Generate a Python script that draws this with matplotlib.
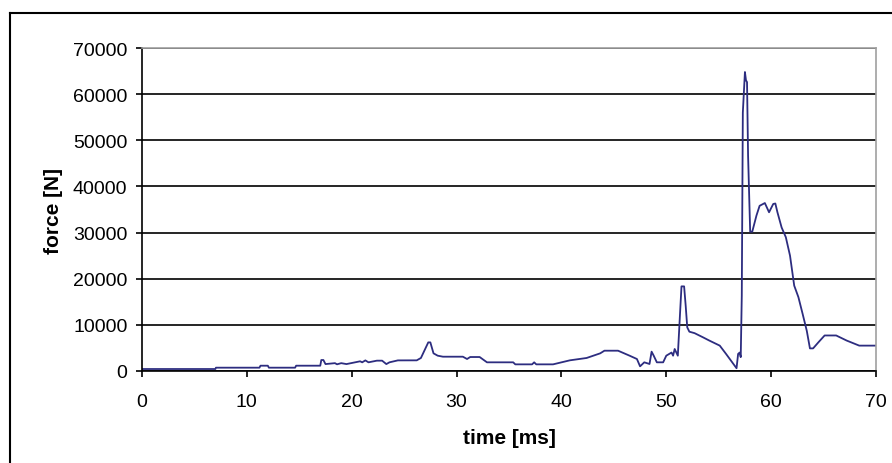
import matplotlib
matplotlib.use('Agg')
from matplotlib import pyplot as plt
from matplotlib.lines import Line2D

plt.rcParams['font.family'] = ['Liberation Sans', 'DejaVu Sans']

# time [ms] and force [N]
time_ms = [0, 7.0, 7.05, 11.2, 11.3, 12.0, 12.1, 14.6, 14.7, 17.0,
           17.1, 17.3, 17.5, 18.4, 18.6, 19.0, 19.5, 20.8, 21.0, 21.3,
           21.6, 22.4, 22.9, 23.3, 23.6, 24.4, 26.2, 26.6, 27.3, 27.5,
           27.8, 28.2, 28.7, 30.6, 31.0, 31.3, 32.2, 32.9, 35.4, 35.6,
           37.2, 37.4, 37.6, 39.2, 40.8, 42.4, 43.7, 44.1, 45.4, 46.5,
           47.2, 47.5, 47.9, 48.4, 48.6, 48.8, 49.1, 49.7, 50.0, 50.5,
           50.65, 50.8, 51.1, 51.3, 51.45, 51.7, 51.85, 52.0, 52.2, 52.7,
           53.5, 54.1, 55.1, 55.7, 56.7, 56.85, 57.0, 57.1, 57.2, 57.3,
           57.5, 57.6, 57.7, 57.8, 58.0, 58.2, 58.6, 58.9, 59.4, 59.8,
           60.2, 60.4, 60.6, 61.0, 61.4, 61.8, 62.2, 62.6, 63.0, 63.4,
           63.7, 64.0, 64.5, 65.1, 66.2, 67.2, 68.4, 70.0]
force_n = [430, 430, 720, 720, 1150, 1150, 720, 720, 1150, 1150,
           2380, 2380, 1500, 1700, 1450, 1700, 1500, 2100, 1880, 2300,
           1880, 2240, 2240, 1500, 1880, 2300, 2310, 2820, 6200, 6200,
           3830, 3320, 3100, 3100, 2600, 3030, 3030, 1880, 1880, 1440,
           1440, 1880, 1440, 1440, 2310, 2820, 3830, 4400, 4400, 3320,
           2600, 1010, 1880, 1520, 4190, 3320, 1880, 1880, 3320, 4000,
           3320, 4770, 3320, 12000, 18340, 18340, 14150, 9450, 8520, 8200,
           7300, 6600, 5500, 3700, 600, 3700, 4000, 3000, 16300, 56000,
           64800, 63000, 62600, 46700, 30200, 30200, 33700, 35800, 36400, 34400,
           36200, 36300, 34400, 31100, 29000, 25000, 18500, 16000, 12400, 8700,
           4900, 4900, 6200, 7700, 7700, 6600, 5500, 5500]

x_ticks = [0, 10, 20, 30, 40, 50, 60, 70]
y_ticks = [0, 10000, 20000, 30000, 40000, 50000, 60000, 70000]

fig = plt.figure(figsize=(8.92, 4.64), dpi=100)
ax = fig.add_axes([142/892, 1-372/464, 734/892, 323/464])

ax.plot(time_ms, force_n, color='#2d2d80', lw=1.3)

ax.set_xlim(0, 70)
ax.set_ylim(0, 70000)
ax.set_xticks(x_ticks)
ax.set_yticks(y_ticks)
ax.set_yticklabels([str(v) for v in y_ticks])
ax.yaxis.grid(True, color='black', lw=1.2)
ax.set_axisbelow(True)

for s in ['left', 'bottom']:
    ax.spines[s].set_color('black')
    ax.spines[s].set_linewidth(1.2)
for s in ['top', 'right']:
    ax.spines[s].set_color('#a0a0a0')
    ax.spines[s].set_linewidth(1.2)

ax.tick_params(direction='out', length=4.5, width=1.2, labelsize=14, colors='black')
ax.tick_params(axis='y', pad=6)
ax.tick_params(axis='x', pad=11)

ax.set_xlabel('time [ms]', fontsize=15, fontweight='bold', labelpad=13)
ax.set_ylabel('force [N]', fontsize=15, fontweight='bold', labelpad=7)

# outer chart frame (left and top edges visible)
fig.add_artist(Line2D([10/892, 10/892], [0, 1-14/464], transform=fig.transFigure, color='black', lw=1.5))
fig.add_artist(Line2D([10/892, 1], [1-14/464, 1-14/464], transform=fig.transFigure, color='black', lw=1.5))

fig.savefig('out.png', dpi=100)
